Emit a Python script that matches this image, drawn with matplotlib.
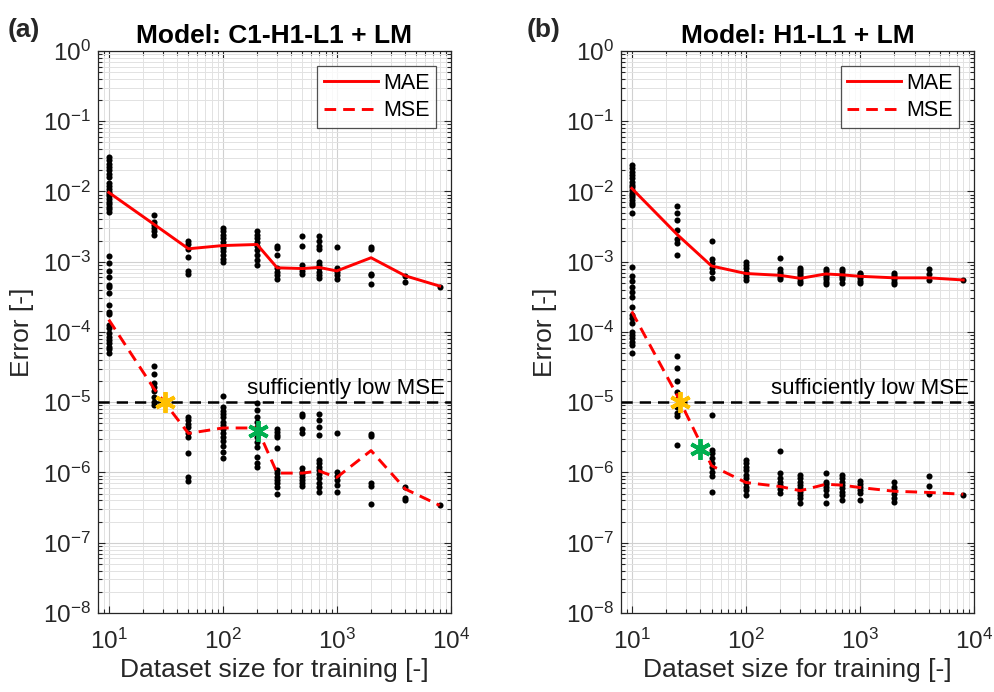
import matplotlib
matplotlib.use("Agg")
import matplotlib.pyplot as plt
from matplotlib.ticker import LogLocator, LogFormatterSciNotation, NullFormatter

plt.rcParams["font.family"] = ["Liberation Sans", "DejaVu Sans"]
plt.rcParams["axes.unicode_minus"] = False
plt.rcParams["mathtext.fontset"] = "custom"
plt.rcParams["mathtext.rm"] = "Liberation Sans"
plt.rcParams["mathtext.it"] = "Liberation Sans:italic"
plt.rcParams["mathtext.bf"] = "Liberation Sans:bold"

# training-set sizes shared by both models
sizes = [10, 25, 50, 100, 200, 300, 500, 700, 1000, 2000, 4000, 8000]
threshold_mse = 1e-5

# ---- Model (a): C1-H1-L1 + LM ----
title_a = "Model: C1-H1-L1 + LM"
mae_line_a = [0.0097, 0.0034, 0.00153, 0.0017, 0.00176, 0.00082, 0.0008,
              0.00083, 0.00074, 0.00114, 0.00063, 0.00045]
mse_line_a = [1.5e-4, 1.55e-5, 3.6e-6, 4.3e-6, 4.3e-6, 9.8e-7, 9.8e-7,
              1.05e-6, 8.5e-7, 2.05e-6, 5.8e-7, 3.4e-7]
mae_runs_a = [
    [0.031, 0.028, 0.025, 0.0225, 0.020, 0.018, 0.016, 0.013, 0.012, 0.011,
     0.0099, 0.0092, 0.0085, 0.0077, 0.0072, 0.0066, 0.0061, 0.0056, 0.0051],
    [0.0046, 0.0037, 0.0033, 0.0030, 0.0027, 0.0024],
    [0.0020, 0.0018, 0.0015, 0.00116, 0.00075, 0.00068],
    [0.0030, 0.0027, 0.0024, 0.00215, 0.0019, 0.0017, 0.00155, 0.0014,
     0.00125, 0.0011, 0.0010],
    [0.0027, 0.0024, 0.00215, 0.0019, 0.0017, 0.00147, 0.00125, 0.00106, 0.0009],
    [0.0017, 0.00155, 0.00125, 0.00081, 0.00072, 0.00065, 0.00056],
    [0.0023, 0.0017, 0.0009, 0.00081, 0.00075, 0.00068],
    [0.0023, 0.0020, 0.0017, 0.0015, 0.0010, 0.0009, 0.00081, 0.00072,
     0.00065, 0.00058],
    [0.0016, 0.00081, 0.00072, 0.00065, 0.00057],
    [0.0016, 0.0015, 0.00068, 0.00065, 0.00048],
    [0.00063, 0.00052],
    [0.00044],
]
mse_runs_a = [
    [1.2e-3, 9.6e-4, 7.5e-4, 6.0e-4, 4.7e-4, 4.4e-4, 3.6e-4, 2.4e-4, 1.95e-4,
     1.8e-4, 1.26e-4, 1.14e-4, 9.7e-5, 8.6e-5, 7.7e-5, 6.9e-5, 6.2e-5,
     5.7e-5, 5.0e-5],
    [3.3e-5, 2.5e-5, 1.86e-5, 1.66e-5, 1.46e-5, 1.2e-5, 1.02e-5, 9.1e-6],
    [6.2e-6, 5.5e-6, 4.9e-6, 4.5e-6, 3.6e-6, 3.2e-6, 1.87e-6, 8.7e-7, 7.6e-7],
    [1.23e-5, 8.5e-6, 7.6e-6, 6.8e-6, 6.1e-6, 5.3e-6, 4.7e-6, 4.1e-6, 3.6e-6,
     3.2e-6, 2.84e-6, 2.38e-6, 1.98e-6, 1.59e-6],
    [9.7e-6, 7.8e-6, 6.2e-6, 5.3e-6, 4.5e-6, 3.8e-6, 3.2e-6, 2.74e-6, 2.33e-6,
     1.68e-6, 1.35e-6, 1.21e-6],
    [4.1e-6, 3.8e-6, 3.4e-6, 3.2e-6, 2.2e-6, 1.09e-6, 9.7e-7, 8.7e-7, 7.8e-7,
     7.0e-7, 6.3e-7, 4.9e-7],
    [6.8e-6, 6.4e-6, 4.1e-6, 3.7e-6, 1.15e-6, 1.03e-6, 9.4e-7, 8.7e-7, 7.8e-7,
     7.0e-7, 6.4e-7],
    [6.8e-6, 5.6e-6, 4.4e-6, 3.4e-6, 1.5e-6, 1.35e-6, 1.21e-6, 1.09e-6,
     9.5e-7, 8.3e-7, 7.2e-7, 6.3e-7, 5.3e-7],
    [3.6e-6, 1.03e-6, 8.9e-7, 7.8e-7, 6.6e-7, 5.3e-7],
    [3.5e-6, 3.3e-6, 7.0e-7, 6.4e-7, 3.6e-7],
    [6.2e-7, 4.3e-7, 4.1e-7],
    [3.4e-7],
]
star_low_a = (31, 1e-5)        # threshold crossing
star_pick_a = (205, 3.9e-6)    # selected dataset size

# ---- Model (b): H1-L1 + LM ----
title_b = "Model: H1-L1 + LM"
mae_line_b = [0.0111, 0.00244, 0.00087, 0.00068, 0.00064, 0.00058, 0.00067,
              0.00065, 0.00062, 0.00059, 0.00059, 0.00055]
mse_line_b = [1.96e-4, 1.25e-5, 1.25e-6, 7.2e-7, 6.3e-7, 5.5e-7, 6.8e-7,
              6.6e-7, 6.1e-7, 5.4e-7, 5.2e-7, 4.9e-7]
mae_runs_b = [
    [0.0238, 0.0214, 0.0191, 0.0172, 0.0154, 0.0138, 0.0124, 0.0115, 0.0105,
     0.0096, 0.0089, 0.0083, 0.0076, 0.0069, 0.0064, 0.0050],
    [0.0062, 0.0049, 0.0039, 0.00283, 0.00208, 0.00187, 0.00125],
    [0.0020, 0.00108, 0.00095, 0.00081, 0.00072, 0.00058],
    [0.0010, 0.0009, 0.00081, 0.00072, 0.00067, 0.00061, 0.00055],
    [0.00114, 0.00078, 0.00072, 0.00067, 0.00061, 0.00056],
    [0.00081, 0.00076, 0.00071, 0.00066, 0.00062, 0.00058, 0.00054, 0.00050],
    [0.00078, 0.00073, 0.00068, 0.00064, 0.00060, 0.00056, 0.00052, 0.00049],
    [0.00078, 0.00073, 0.00068, 0.00064, 0.00060, 0.00056, 0.00050],
    [0.00070, 0.00066, 0.00062, 0.00058, 0.00054, 0.00050],
    [0.00070, 0.00065, 0.00060, 0.00056, 0.00052, 0.00049],
    [0.00078, 0.00068, 0.00055],
    [0.00055],
]
mse_runs_b = [
    [8.5e-4, 6.3e-4, 5.4e-4, 4.4e-4, 3.7e-4, 3.2e-4, 2.3e-4, 1.75e-4, 1.56e-4,
     1.33e-4, 1.0e-4, 9.1e-5, 8.1e-5, 7.3e-5, 6.5e-5, 5.1e-5],
    [4.5e-5, 3.1e-5, 2.0e-5, 1.41e-5, 1.1e-5, 8.5e-6, 7.1e-6, 6.4e-6, 2.5e-6],
    [6.6e-6, 2.1e-6, 1.87e-6, 1.6e-6, 1.35e-6, 1.21e-6, 1.03e-6, 8.9e-7, 5.2e-7],
    [1.5e-6, 1.35e-6, 1.21e-6, 1.09e-6, 9.2e-7, 8.3e-7, 7.2e-7, 6.3e-7,
     5.6e-7, 4.8e-7],
    [2.0e-6, 9.7e-7, 8.3e-7, 7.4e-7, 6.6e-7, 5.8e-7, 5.1e-7],
    [9.2e-7, 8.3e-7, 7.4e-7, 6.6e-7, 6.0e-7, 5.3e-7, 4.8e-7, 4.3e-7, 3.7e-7],
    [9.7e-7, 7.4e-7, 6.9e-7, 6.3e-7, 5.6e-7, 4.8e-7, 3.7e-7],
    [9.2e-7, 8.3e-7, 7.4e-7, 6.6e-7, 6.0e-7, 5.3e-7, 4.8e-7, 4.1e-7],
    [7.6e-7, 6.9e-7, 6.2e-7, 5.6e-7, 5.1e-7, 4.1e-7],
    [7.4e-7, 6.3e-7, 5.6e-7, 4.9e-7, 4.3e-7, 3.8e-7],
    [9.0e-7, 6.4e-7, 4.9e-7],
    [4.8e-7],
]
star_low_b = (26.7, 1e-5)
star_pick_b = (40, 2.15e-6)

RED = "#ff0000"
GOLD = "#ffc000"
GREEN = "#00b050"
FRAME = "#262626"

fig = plt.figure(figsize=(9.95, 6.92), dpi=100)
ax_a = fig.add_axes([0.0982, 0.1142, 0.3548, 0.8121])
ax_b = fig.add_axes([0.6238, 0.1142, 0.3554, 0.8121])


def draw_panel(ax, title, mae_line, mse_line, mae_runs, mse_runs, star_low, star_pick, tag, tag_x):
    for s, vals in zip(sizes, mae_runs):
        ax.plot([s] * len(vals), vals, "o", color="black", ms=4.4, mew=0, zorder=3)
    for s, vals in zip(sizes, mse_runs):
        ax.plot([s] * len(vals), vals, "o", color="black", ms=4.4, mew=0, zorder=3)

    ax.axhline(threshold_mse, color="black", lw=1.8, dashes=(4.5, 2.8), zorder=4)
    ax.plot(sizes, mae_line, "-", color=RED, lw=2.1, label="MAE", zorder=5)
    ax.plot(sizes, mse_line, "--", color=RED, lw=2.1, dashes=(4.0, 2.4), label="MSE", zorder=5)

    ax.plot(*star_low, marker=(6, 2, 0), ms=15, mew=2.8, color=GOLD, zorder=6)
    ax.plot(*star_pick, marker=(6, 2, 0), ms=15, mew=2.8, color=GREEN, zorder=6)

    ax.text(0.985, threshold_mse * 1.32, "sufficiently low MSE", transform=ax.get_yaxis_transform(),
            ha="right", va="baseline", fontsize=16, color="black", zorder=7)

    ax.set_xscale("log")
    ax.set_yscale("log")
    ax.set_xlim(8, 1e4)
    ax.set_ylim(1e-8, 1)

    ax.xaxis.set_major_locator(LogLocator(base=10, numticks=10))
    ax.yaxis.set_major_locator(LogLocator(base=10, numticks=20))
    ax.xaxis.set_minor_locator(LogLocator(base=10, subs=range(2, 10), numticks=20))
    ax.yaxis.set_minor_locator(LogLocator(base=10, subs=range(2, 10), numticks=20))
    ax.xaxis.set_major_formatter(LogFormatterSciNotation())
    ax.yaxis.set_major_formatter(LogFormatterSciNotation())
    ax.xaxis.set_minor_formatter(NullFormatter())
    ax.yaxis.set_minor_formatter(NullFormatter())

    ax.grid(True, which="major", color="#d0d0d0", lw=0.8, zorder=0)
    ax.grid(True, which="minor", color="#e2e2e2", lw=0.7, zorder=0)
    ax.set_axisbelow(True)

    ax.tick_params(which="both", direction="in", top=True, right=True, colors=FRAME,
                   labelcolor="#262626", width=0.8)
    ax.tick_params(which="major", length=5, labelsize=17.5)
    ax.tick_params(which="minor", length=2.8)
    ax.tick_params(axis="x", which="major", pad=11)
    ax.tick_params(axis="y", which="major", pad=5)
    for sp in ax.spines.values():
        sp.set_color(FRAME)
        sp.set_linewidth(0.9)

    ax.set_title(title, fontsize=19, fontweight="bold", pad=6)
    ax.set_xlabel("Dataset size for training [-]", fontsize=19, color="#262626", labelpad=3)
    ax.set_ylabel("Error [-]", fontsize=19, color="#262626", labelpad=6)

    leg = ax.legend(loc="upper right", bbox_to_anchor=(0.958, 0.973), borderaxespad=0,
                    fontsize=15.5, frameon=True, fancybox=False, edgecolor="#262626",
                    handlelength=2.5, handletextpad=0.25, borderpad=0.3, labelspacing=0.3)
    leg.get_frame().set_linewidth(0.9)

    fig.text(tag_x, 0.957, tag, fontsize=19, fontweight="bold", color="#262626",
             ha="left", va="center")


draw_panel(ax_a, title_a, mae_line_a, mse_line_a, mae_runs_a, mse_runs_a,
           star_low_a, star_pick_a, "(a)", 0.008)
draw_panel(ax_b, title_b, mae_line_b, mse_line_b, mae_runs_b, mse_runs_b,
           star_low_b, star_pick_b, "(b)", 0.529)

fig.savefig("out.png", dpi=100)
